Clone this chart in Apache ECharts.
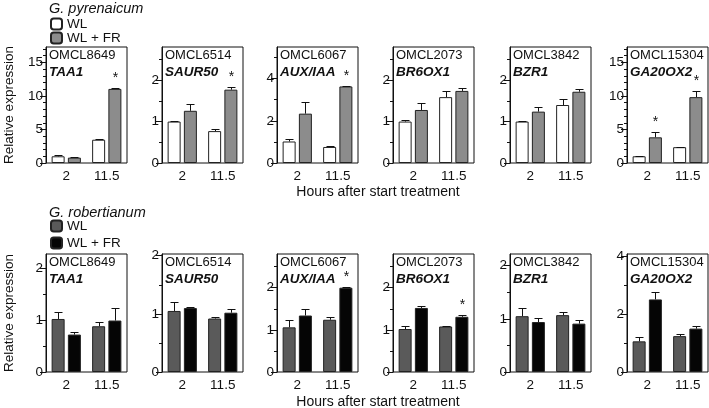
<!DOCTYPE html>
<html><head><meta charset="utf-8">
<script src="https://cdn.jsdelivr.net/npm/echarts@6/dist/echarts.min.js"></script>
<style>html,body{margin:0;padding:0;background:#fff}#c{width:709px;height:408px}</style>
</head><body><div id="c"></div>
<script>
// ---------- data ----------
const categories = ['2', '11.5'];
const omcl = ['OMCL8649', 'OMCL6514', 'OMCL6067', 'OMCL2073', 'OMCL3842', 'OMCL15304'];
const genes = ['TAA1', 'SAUR50', 'AUX/IAA', 'BR6OX1', 'BZR1', 'GA20OX2'];

// G. pyrenaicum (top row)  [2 h, 11.5 h]
const pyrWL      = [[1.00, 3.47], [1.00, 0.77], [1.02, 0.76], [1.00, 1.59], [1.00, 1.40], [1.00, 2.36]];
const pyrWLErr   = [[0.15, 0.08], [0.02, 0.06], [0.13, 0.04], [0.03, 0.16], [0.02, 0.15], [0.08, 0.06]];
const pyrFR      = [[0.80, 11.05], [1.26, 1.77], [2.34, 3.63], [1.28, 1.74], [1.24, 1.72], [3.83, 9.82]];
const pyrFRErr   = [[0.05, 0.15], [0.16, 0.07], [0.55, 0.04], [0.16, 0.06], [0.12, 0.06], [0.83, 0.98]];
const pyrFRStar  = [[0, 1], [0, 1], [0, 1], [0, 0], [0, 0], [1, 1]];

// G. robertianum (bottom row)
const robWL      = [[1.02, 0.88], [1.05, 0.92], [1.06, 1.24], [1.02, 1.08], [1.05, 1.07], [1.06, 1.24]];
const robWLErr   = [[0.14, 0.09], [0.16, 0.02], [0.17, 0.06], [0.08, 0.02], [0.16, 0.05], [0.16, 0.09]];
const robFR      = [[0.72, 0.99], [1.10, 1.02], [1.34, 2.00], [1.52, 1.31], [0.94, 0.91], [2.51, 1.50]];
const robFRErr   = [[0.05, 0.25], [0.02, 0.06], [0.15, 0.02], [0.04, 0.05], [0.07, 0.06], [0.27, 0.10]];
const robFRStar  = [[0, 0], [0, 0], [0, 1], [0, 1], [0, 0], [0, 0]];

// axes
const pyrMax = [17.3, 2.8, 5.5, 2.8, 2.8, 17.3];
const robMax = [2.27, 2.03, 2.8, 2.8, 2.22, 4.08];
const pyrTicks = [[0, 5, 10, 15], [0, 1, 2], [0, 2, 4], [0, 1, 2], [0, 1, 2], [0, 5, 10, 15]];
const robTicks = [[0, 1, 2], [0, 1, 2], [0, 1, 2], [0, 1, 2], [0, 1, 2], [0, 2, 4]];
const pyrMinor = [[1, 2, 3, 4, 6, 7, 8, 9, 11, 12, 13, 14, 16, 17], [0.5, 1.5, 2.5], [1, 3, 5], [0.5, 1.5, 2.5], [0.5, 1.5, 2.5], [1, 2, 3, 4, 6, 7, 8, 9, 11, 12, 13, 14, 16, 17]];
const robMinor = [[0.5, 1.5], [0.5, 1.5], [0.5, 1.5, 2.5], [0.5, 1.5, 2.5], [0.5, 1.5], [1, 3]];

const seriesNamesTop = ['WL', 'WL + FR'];
const seriesNamesBot = ['WL ', 'WL + FR '];
const speciesTop = 'G. pyrenaicum';
const speciesBot = 'G. robertianum';
const yTitle = 'Relative expression';
const xTitle = 'Hours after start treatment';

// ---------- layout / style ----------
const FONT = "'Liberation Sans', Arial, Helvetica, sans-serif";
const colLeft = [46, 162, 277, 393, 510, 627];
const panelW = 81;
const rowTop = [47, 254];
const rowH = [116, 118];
const BAR_W = 13;
const GAP = 3.25;
const colors = [['#ffffff', '#8c8c8c'], ['#5a5a5a', '#050505']];

const rows = [
  {wl: pyrWL, wlE: pyrWLErr, fr: pyrFR, frE: pyrFRErr, star: pyrFRStar, max: pyrMax, ticks: pyrTicks, minor: pyrMinor, names: seriesNamesTop},
  {wl: robWL, wlE: robWLErr, fr: robFR, frE: robFRErr, star: robFRStar, max: robMax, ticks: robTicks, minor: robMinor, names: seriesNamesBot}
];

const grid = [], xAxis = [], yAxis = [], series = [], title = [];

function renderErr(params, api) {
  const cat = api.value(0), val = api.value(1), err = api.value(2), side = api.value(3), star = api.value(4);
  const p0 = api.coord([cat, val]);
  const p1 = api.coord([cat, val + err]);
  const x = Math.round(p0[0] + side * (BAR_W + GAP) / 2) + 0.5;
  const yTop = Math.round(p1[1]) + 0.5;
  const st = {stroke: '#111', lineWidth: 1};
  const children = [
    {type: 'line', shape: {x1: x, y1: p0[1], x2: x, y2: yTop}, style: st},
    {type: 'line', shape: {x1: x - 4, y1: yTop, x2: x + 4, y2: yTop}, style: st}
  ];
  if (star) {
    children.push({type: 'text', style: {text: '*', x: x, y: yTop - 3, align: 'center', verticalAlign: 'bottom', font: '14px ' + FONT, fill: '#111'}});
  }
  return {type: 'group', children: children};
}

rows.forEach((R, r) => {
  for (let c = 0; c < 6; c++) {
    const g = r * 6 + c;
    grid.push({left: colLeft[c], top: rowTop[r], width: panelW, height: rowH[r], show: true, borderColor: '#111', borderWidth: 1, backgroundColor: 'transparent'});
    xAxis.push({type: 'category', gridIndex: g, data: categories, axisLine: {show: false}, axisTick: {show: false},
      axisLabel: {fontFamily: FONT, fontSize: 13.5, color: '#111', margin: 6}});
    yAxis.push({type: 'value', gridIndex: g, position: 'left', min: 0, max: R.max[c], splitLine: {show: false},
      name: c === 0 ? yTitle : '', nameLocation: 'middle', nameGap: 30, nameRotate: 90,
      nameTextStyle: {fontFamily: FONT, fontSize: 13.5, color: '#111'},
      axisLine: {show: true, lineStyle: {color: '#111', width: 1}},
      axisTick: {show: true, length: 6, customValues: R.ticks[c], lineStyle: {color: '#111'}},
      axisLabel: {customValues: R.ticks[c], fontFamily: FONT, fontSize: 13.5, color: '#111', margin: 3}});
    yAxis.push({type: 'value', gridIndex: g, position: 'left', min: 0, max: R.max[c], splitLine: {show: false},
      axisLine: {show: false},
      axisTick: {show: true, length: 3, customValues: R.minor[c], lineStyle: {color: '#111'}},
      axisLabel: {show: false}});
    const yi = 2 * g;
    series.push({type: 'bar', name: R.names[0], xAxisIndex: g, yAxisIndex: yi, barWidth: BAR_W, barGap: '25%',
      itemStyle: {color: colors[r][0], borderColor: '#222', borderWidth: 1}, data: R.wl[c]});
    series.push({type: 'bar', name: R.names[1], xAxisIndex: g, yAxisIndex: yi, barWidth: BAR_W, barGap: '25%',
      itemStyle: {color: colors[r][1], borderColor: '#222', borderWidth: 1}, data: R.fr[c]});
    const errData = [];
    for (let k = 0; k < 2; k++) {
      errData.push([k, R.wl[c][k], R.wlE[c][k], -1, 0]);
      errData.push([k, R.fr[c][k], R.frE[c][k], 1, R.star[c][k]]);
    }
    series.push({type: 'custom', xAxisIndex: g, yAxisIndex: yi, renderItem: renderErr, data: errData, z: 5,
      encode: {x: 0, y: 1}, silent: true});
    title.push({text: omcl[c], subtext: genes[c], left: colLeft[c] + 3, top: rowTop[r] + 2, padding: 0, itemGap: 3,
      textStyle: {fontFamily: FONT, fontSize: 13, fontWeight: 'normal', color: '#111'},
      subtextStyle: {fontFamily: FONT, fontSize: 13.5, fontWeight: 'bold', fontStyle: 'italic', color: '#111'}});
  }
});

title.push({text: speciesTop, left: 49, top: 1, padding: 0, textStyle: {fontFamily: FONT, fontSize: 14.5, fontStyle: 'italic', fontWeight: 'normal', color: '#111'}});
title.push({text: speciesBot, left: 49, top: 205, padding: 0, textStyle: {fontFamily: FONT, fontSize: 14.5, fontStyle: 'italic', fontWeight: 'normal', color: '#111'}});
title.push({text: xTitle, left: 378, textAlign: 'center', top: 185, padding: 0, textStyle: {fontFamily: FONT, fontSize: 14, fontWeight: 'normal', color: '#111'}});
title.push({text: xTitle, left: 378, textAlign: 'center', top: 395, padding: 0, textStyle: {fontFamily: FONT, fontSize: 14, fontWeight: 'normal', color: '#111'}});

const legend = [
  {data: seriesNamesTop, left: 50, top: 17, orient: 'vertical', itemWidth: 11, itemHeight: 11, itemGap: 0, padding: 0,
   icon: 'roundRect', textStyle: {fontFamily: FONT, fontSize: 13.5, color: '#111', lineHeight: 11}, selectedMode: false},
  {data: seriesNamesBot, left: 50, top: 219, orient: 'vertical', itemWidth: 11, itemHeight: 11, itemGap: 3, padding: 0,
   icon: 'roundRect', textStyle: {fontFamily: FONT, fontSize: 13.5, color: '#111', lineHeight: 11}, selectedMode: false}
];

const chart = echarts.init(document.getElementById('c'), null, {renderer: 'canvas'});
chart.setOption({animation: false, backgroundColor: '#fff', grid, xAxis, yAxis, series, title, legend});
</script></body></html>
